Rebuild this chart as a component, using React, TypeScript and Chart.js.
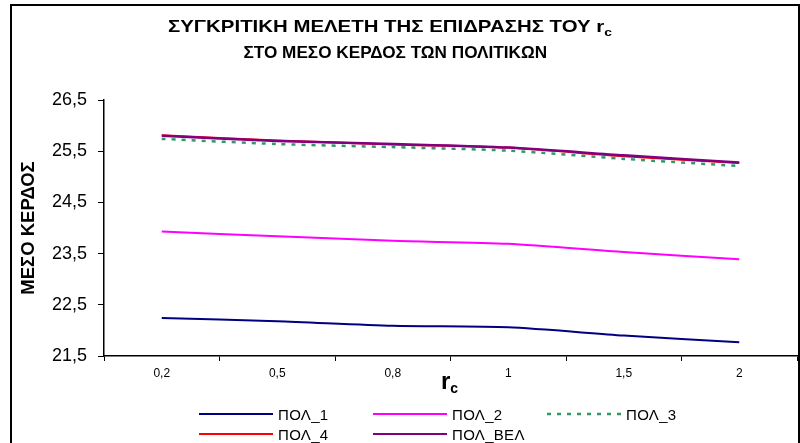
import React, { useEffect, useRef } from "react";
import { Chart, registerables } from "chart.js";
Chart.register(...registerables);

const CATEGORIES = ["0,2", "0,5", "0,8", "1", "1,5", "2"];
const POL_1 = [22.24, 22.18, 22.09, 22.06, 21.9, 21.77];
const POL_2 = [23.93, 23.84, 23.75, 23.69, 23.53, 23.39];
const POL_3 = [25.74, 25.64, 25.58, 25.51, 25.35, 25.21];
const POL_4 = [25.81, 25.71, 25.63, 25.57, 25.4, 25.27];
const POL_VEL = [25.8, 25.7, 25.64, 25.57, 25.42, 25.28];
const Y_TICKS = [21.5, 22.5, 23.5, 24.5, 25.5, 26.5];
const NAMES = ["ΠΟΛ_1", "ΠΟΛ_2", "ΠΟΛ_3", "ΠΟΛ_4", "ΠΟΛ_ΒΕΛ"];
const COLORS = ["#000080", "#FF00FF", "#339966", "#FF0000", "#800080"];

const FONT = '"Liberation Sans", Arial, sans-serif';

export default function App() {
  const ref = useRef<HTMLCanvasElement | null>(null);

  useEffect(() => {
    if (!ref.current) return;
    const series = [POL_1, POL_2, POL_3, POL_4, POL_VEL];
    const orders = [4, 3, 2, 1, 0];
    const widths = [2, 2, 2.5, 2, 2.5];
    const chart = new Chart(ref.current, {
      type: "line",
      data: {
        labels: CATEGORIES,
        datasets: series.map((d, i) => ({
          label: NAMES[i],
          data: d,
          borderColor: COLORS[i],
          backgroundColor: COLORS[i],
          borderWidth: widths[i],
          borderDash: i === 2 ? [4, 6] : [],
          pointRadius: 0,
          tension: 0.25,
          fill: false,
          order: orders[i],
        })),
      },
      options: {
        responsive: false,
        animation: false,
        devicePixelRatio: 1,
        layout: { padding: { left: 0, right: 3, top: 100, bottom: 57 } },
        plugins: { legend: { display: false }, title: { display: false }, tooltip: { enabled: false } },
        scales: {
          x: {
            type: "category",
            offset: true,
            grid: {
              display: true,
              offset: true,
              drawOnChartArea: false,
              drawTicks: true,
              tickLength: 5,
              color: "#000",
            },
            border: { display: true, color: "#000", width: 1.5 },
            ticks: { color: "#000", font: { family: FONT, size: 12 }, padding: 5, maxRotation: 0, autoSkip: false },
            afterFit: (s: any) => { s.height = 30; },
          },
          y: {
            min: 21.5,
            max: 26.5,
            grid: {
              display: true,
              drawOnChartArea: false,
              drawTicks: true,
              tickLength: 6,
              color: "#000",
            },
            border: { display: true, color: "#000", width: 1.5 },
            afterBuildTicks: (s: any) => { s.ticks = Y_TICKS.map((v) => ({ value: v })); },
            ticks: {
              color: "#000",
              font: { family: FONT, size: 18 },
              padding: 11,
              callback: (v: any) => Number(v).toFixed(1).replace(".", ","),
            },
            title: {
              display: true,
              text: "ΜΕΣΟ ΚΕΡΔΟΣ",
              color: "#000",
              font: { family: FONT, size: 18.5, weight: "bold" },
              padding: { top: 18, bottom: 0 },
            },
            afterFit: (s: any) => { s.width = 104; },
          },
        },
      },
    });
    return () => chart.destroy();
  }, []);

  const legendLine = (i: number) => (
    <svg width={74} height={6} style={{ display: "block" }}>
      <line
        x1={0}
        y1={3}
        x2={74}
        y2={3}
        stroke={COLORS[i]}
        strokeWidth={i === 2 ? 2.5 : 2}
        strokeDasharray={i === 2 ? "4 6" : undefined}
      />
    </svg>
  );

  return (
    <div style={{ position: "fixed", left: 0, top: 0, width: 800, height: 443, overflow: "hidden", background: "#fff", fontFamily: FONT }}>
      <canvas ref={ref} width={800} height={443} style={{ position: "absolute", left: 0, top: 0 }} />
      <div style={{ position: "absolute", left: 10, top: 4, width: 790, height: 460, border: "2px solid #000", boxSizing: "border-box", pointerEvents: "none" }} />
      <div style={{ position: "absolute", left: 0, width: 780, top: 15, textAlign: "center", fontWeight: "bold", fontSize: 17, lineHeight: "24px", color: "#000" }}>
        <span style={{ display: "inline-block", transform: "scaleX(1.2)" }}>
          ΣΥΓΚΡΙΤΙΚΗ ΜΕΛΕΤΗ ΤΗΣ ΕΠΙΔΡΑΣΗΣ ΤΟΥ r
          <span style={{ fontSize: 11.5, position: "relative", top: 4 }}>c</span>
        </span>
      </div>
      <div style={{ position: "absolute", left: 0, width: 791, top: 41, textAlign: "center", fontWeight: "bold", fontSize: 17, lineHeight: "24px", color: "#000" }}>
        <span style={{ display: "inline-block", transform: "scaleX(1.01)" }}>ΣΤΟ ΜΕΣΟ ΚΕΡΔΟΣ ΤΩΝ ΠΟΛΙΤΙΚΩΝ</span>
      </div>
      <div style={{ position: "absolute", left: 441, top: 367, fontWeight: "bold", fontSize: 24, lineHeight: "28px", color: "#000" }}>
        r<span style={{ fontSize: 14, position: "relative", top: 4 }}>c</span>
      </div>
      <div style={{ position: "absolute", left: 199, top: 404, display: "grid", gridTemplateColumns: "174px 174px 174px", gridAutoRows: "20px", fontSize: 15, color: "#000" }}>
        {NAMES.map((n, i) => (
          <div key={n} style={{ display: "flex", alignItems: "center", gap: 5, height: 20 }}>
            {legendLine(i)}
            <span style={{ letterSpacing: 0.3 }}>{n}</span>
          </div>
        ))}
      </div>
    </div>
  );
}
